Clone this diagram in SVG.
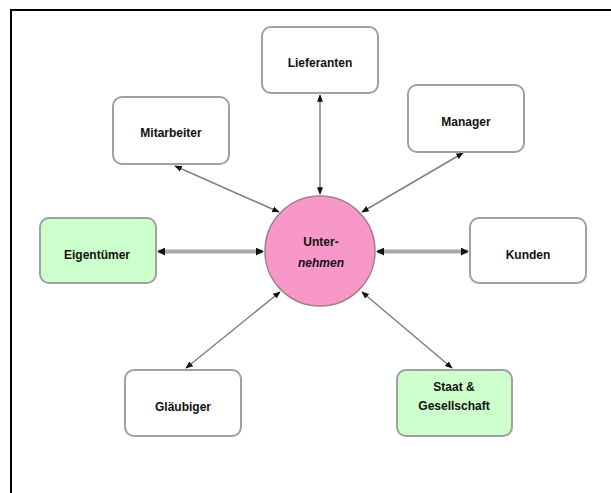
<svg xmlns="http://www.w3.org/2000/svg" width="611" height="493" viewBox="0 0 611 493">
<style>
.box{fill:#ffffff;stroke:#a0a0a0;stroke-width:2}
.green{fill:#ccffcc}
.lbl{font-family:"Liberation Sans",Arial,sans-serif;font-size:12px;font-weight:bold;fill:#111;text-anchor:middle}
.thin{stroke:#808080;stroke-width:1.5;fill:none;marker-start:url(#ah);marker-end:url(#ah)}
.thick{stroke:#a8a8a8;stroke-width:4;fill:none;marker-start:url(#ah2);marker-end:url(#ah2)}
</style>
<defs>
<marker id="ah" viewBox="0 0 10 10" refX="9" refY="5" markerWidth="5" markerHeight="5" orient="auto-start-reverse" markerUnits="strokeWidth">
<path d="M0,1 L10,5 L0,9 z" fill="#111"/>
</marker>
<marker id="ah2" viewBox="0 0 10 10" refX="9" refY="5" markerWidth="2" markerHeight="2" orient="auto-start-reverse" markerUnits="strokeWidth">
<path d="M0,0 L10,5 L0,10 z" fill="#111"/>
</marker>
</defs>
<rect width="611" height="493" fill="#ffffff"/>
<path d="M11,493 V10 H611" fill="none" stroke="#000" stroke-width="2"/>
<g id="connectors">
<line class="thin" x1="320" y1="95" x2="320" y2="194"/>
<line class="thin" x1="175" y1="166" x2="279" y2="212"/>
<line class="thin" x1="463" y1="153" x2="362" y2="212"/>
<line class="thick" x1="158" y1="251.5" x2="263" y2="251.5"/>
<line class="thick" x1="377" y1="251.5" x2="468" y2="251.5"/>
<line class="thin" x1="280" y1="292" x2="186" y2="368"/>
<line class="thin" x1="362" y1="292" x2="452" y2="368"/>
</g>
<g id="lieferanten"><rect class="box" x="262" y="27" width="116" height="66" rx="9"/><text class="lbl" x="320" y="67">Lieferanten</text></g>
<g id="mitarbeiter"><rect class="box" x="113" y="97" width="116" height="67" rx="9"/><text class="lbl" x="171" y="137">Mitarbeiter</text></g>
<g id="manager"><rect class="box" x="408" y="85" width="116" height="67" rx="9"/><text class="lbl" x="466" y="126">Manager</text></g>
<g id="eigentuemer"><rect class="box green" x="40" y="218" width="116" height="65" rx="9"/><text class="lbl" x="97" y="259">Eigentümer</text></g>
<g id="kunden"><rect class="box" x="470" y="218" width="116" height="65" rx="9"/><text class="lbl" x="528" y="259">Kunden</text></g>
<g id="glaeubiger"><rect class="box" x="125" y="370" width="116" height="66" rx="9"/><text class="lbl" x="183" y="411">Gläubiger</text></g>
<g id="staat"><rect class="box green" x="397" y="370" width="115" height="66" rx="9"/><text class="lbl" x="454" y="391">Staat &amp;</text><text class="lbl" x="454" y="410">Gesellschaft</text></g>
<g id="unternehmen"><circle cx="320" cy="251" r="55" fill="#f898c8" stroke="#a0808f" stroke-width="1.5"/><text class="lbl" x="321" y="246">Unter-</text><text class="lbl" x="321" y="267" font-style="italic">nehmen</text></g>
</svg>
